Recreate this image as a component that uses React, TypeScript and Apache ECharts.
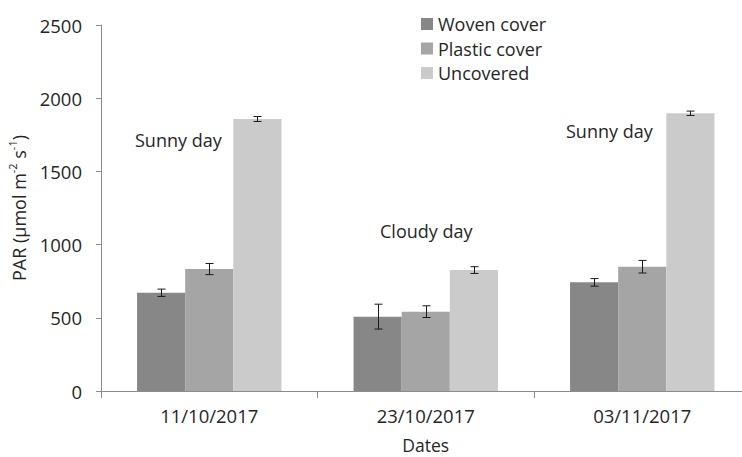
import React, { useEffect, useRef } from "react";
import * as echarts from "echarts";

const categories = ["11/10/2017", "23/10/2017", "03/11/2017"];
const seriesNames = ["Woven cover", "Plastic cover", "Uncovered"];
const woven = [671, 508, 742];
const plastic = [833, 542, 849];
const uncovered = [1858, 826, 1897];
const wovenErr = [25, 85, 26];
const plasticErr = [38, 40, 43];
const uncoveredErr = [17, 23, 15];
const yTicks = [0, 500, 1000, 1500, 2000, 2500];
const annotations = ["Sunny day", "Cloudy day", "Sunny day"];

const FONT = "Open Sans";
const TXT = "#262626";
const AXIS = "#8c8c8c";
const colors = ["#878787", "#a5a5a5", "#cbcbcb"];
const GAP = 0.333;

export default function App() {
  const ref = useRef<HTMLDivElement>(null);
  useEffect(() => {
    if (!ref.current) return;
    const chart = echarts.init(ref.current, null, { renderer: "svg" });
    const values = [woven, plastic, uncovered];
    const errs = [wovenErr, plasticErr, uncoveredErr];
    const errData: number[][] = [];
    values.forEach((vals, s) =>
      vals.forEach((v, c) => errData.push([c, v, errs[s][c], s]))
    );
    chart.setOption({
      animation: false,
      textStyle: { fontFamily: FONT, color: TXT },
      grid: { left: 101, right: -8.5, top: 25, bottom: 66, outerBoundsMode: "none", containLabel: false },
      legend: {
        data: seriesNames,
        orient: "vertical",
        left: 416,
        top: 7,
        itemWidth: 12,
        itemHeight: 12,
        itemGap: 0.5,
        icon: "rect",
        textStyle: { fontFamily: FONT, fontSize: 18, color: TXT, lineHeight: 24 },
      },
      xAxis: {
        type: "category",
        data: categories,
        name: "Dates",
        nameLocation: "middle",
        nameGap: 47,
        nameTextStyle: { fontFamily: FONT, fontSize: 17.5, color: TXT, lineHeight: 14 },
        axisLine: { lineStyle: { color: AXIS, width: 1 } },
        axisTick: { show: true, length: 7, lineStyle: { color: AXIS } },
        axisLabel: { fontFamily: FONT, fontSize: 18.5, color: TXT, margin: 15 },
      },
      yAxis: {
        type: "value",
        min: yTicks[0],
        max: yTicks[yTicks.length - 1],
        interval: yTicks[1] - yTicks[0],
        splitLine: { show: false },
        axisLine: { show: true, lineStyle: { color: AXIS, width: 1 } },
        axisTick: { show: true, length: 5, lineStyle: { color: AXIS } },
        axisLabel: {
          fontFamily: FONT,
          fontSize: 18.5,
          color: TXT,
          margin: 19,
          formatter: (v: number) => String(v),
        },
        name: "{a|PAR (µmol m}{s|-2}{a| s}{s|-1}{a|)}",
        nameLocation: "middle",
        nameGap: 70,
        nameTextStyle: {
          rich: {
            a: { fontFamily: FONT, fontSize: 18, color: TXT, lineHeight: 24 },
            s: { fontFamily: FONT, fontSize: 11, color: TXT, lineHeight: 12, verticalAlign: "top" },
          },
        },
      },
      series: [
        ...seriesNames.map((n, i) => ({
          name: n,
          type: "bar",
          data: values[i],
          barGap: "0%",
          barCategoryGap: GAP * 100 + "%",
          itemStyle: { color: colors[i] },
        })),
        {
          type: "custom",
          data: errData,
          encode: { x: 0, y: 1 },
          z: 10,
          renderItem: (params: any, api: any) => {
            const c = api.value(0);
            const v = api.value(1);
            const e = api.value(2);
            const s = api.value(3);
            const catW = api.size([1, 0])[0];
            const barW = (catW * (1 - GAP)) / 3;
            const x = Math.round(api.coord([c, 0])[0] + (s - 1) * barW) + 0.5;
            const top = api.coord([c, v + e])[1];
            const bot = api.coord([c, v - e])[1];
            const h = 4;
            const st = { stroke: "#1a1a1a", lineWidth: 1 };
            return {
              type: "group",
              children: [
                { type: "line", shape: { x1: x, y1: top, x2: x, y2: bot }, style: st },
                { type: "line", shape: { x1: x - h, y1: top, x2: x + h, y2: top }, style: st },
                { type: "line", shape: { x1: x - h, y1: bot, x2: x + h, y2: bot }, style: st },
              ],
            };
          },
        },
      ],
      graphic: [
        { type: "text", left: 135, top: 131, style: { text: annotations[0], fontFamily: FONT, fontSize: 18, fill: TXT } },
        { type: "text", left: 380, top: 222, style: { text: annotations[1], fontFamily: FONT, fontSize: 18, fill: TXT } },
        { type: "text", left: 566, top: 122, style: { text: annotations[2], fontFamily: FONT, fontSize: 18, fill: TXT } },
      ],
    });
    return () => chart.dispose();
  }, []);
  return (
    <div
      ref={ref}
      style={{ position: "fixed", left: 0, top: 0, width: 742, height: 457, background: "#fff" }}
    />
  );
}
